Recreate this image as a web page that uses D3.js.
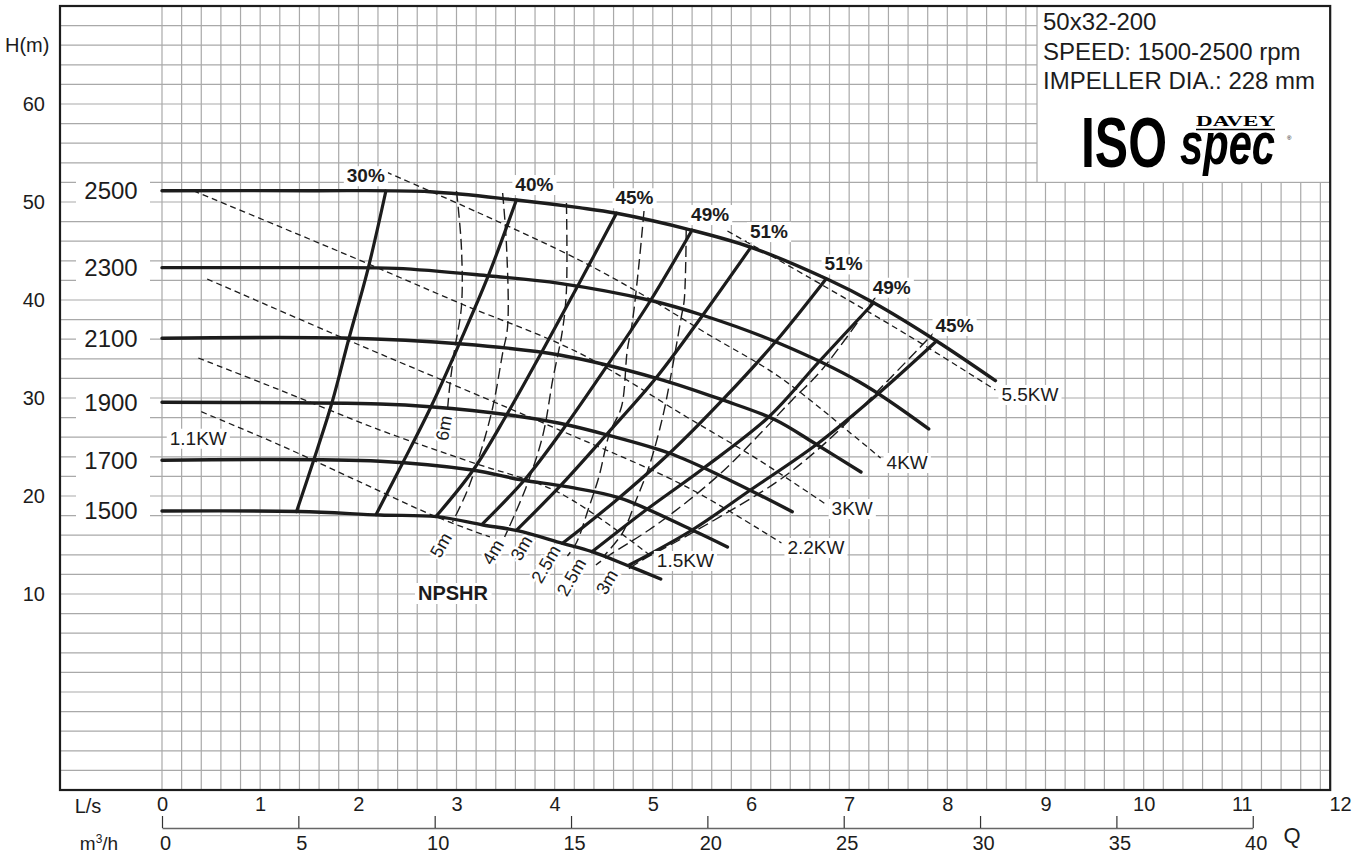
<!DOCTYPE html>
<html><head><meta charset="utf-8">
<script src="https://cdn.jsdelivr.net/npm/d3@7"></script>
<style>
body{margin:0;background:#fff;}
svg{display:block;font-family:"Liberation Sans",Arial,Helvetica,sans-serif;}
</style></head><body>
<svg id="c" width="1364" height="855"></svg>
<script>
// ---------------- DATA (Q in L/s, H in m) ----------------
const speedLabels = ["2500","2300","2100","1900","1700","1500"];
const head2500 = [[0,51.15],[1.5,51.15],[2.73,51.05],[3.61,50.2],[4.25,49.42],[4.63,48.85],[5.39,47.14],[6.0,45.38],[6.78,42.11],[7.25,39.72],[7.89,35.82],[8.49,31.77]];
const head2300 = [[0,43.3],[1.5,43.3],[2.39,43.23],[3.34,42.45],[4.05,41.7],[4.96,40.0],[5.5,38.47],[6.25,35.74],[7.1,31.66],[7.81,26.84]];
const head2100 = [[0,36.1],[1.84,36.12],[3.06,35.51],[4.05,34.39],[5.04,32.01],[5.71,29.8],[6.25,27.76],[6.66,25.3],[7.12,22.45]];
const head1900 = [[0,29.56],[2.22,29.39],[2.73,29.11],[3.54,28.27],[4.05,27.42],[4.54,26.22],[5.17,24.36],[5.71,21.97],[6.42,18.4]];
const head1700 = [[0,23.65],[2.22,23.55],[3.16,22.65],[3.67,21.63],[4.12,20.95],[4.66,19.8],[5.4,16.53],[5.76,14.8]];
const head1500 = [[0,18.47],[1.4,18.42],[2.22,18.06],[2.8,17.89],[3.27,17.04],[3.62,16.46],[4.08,15.17],[4.38,14.32],[4.73,12.96],[5.08,11.53]];
const speedCurves = [head2500, head2300, head2100, head1900, head1700, head1500];

const effLabels = ["30%","40%","45%","49%","51%","51%","49%","45%"];
const eff30  = [[1.37,18.4],[1.54,23.5],[1.73,29.46],[1.9,35.92],[2.1,43.23],[2.28,51.1]];
const eff40  = [[2.18,18.1],[2.45,23.34],[2.74,29.11],[3.03,35.58],[3.32,42.38],[3.61,50.2]];
const eff45a = [[2.79,17.9],[3.17,22.65],[3.51,28.27],[3.88,34.9],[4.25,41.7],[4.63,48.85]];
const eff49a = [[3.26,17.1],[3.71,21.84],[4.08,26.73],[4.54,33.37],[4.98,40.0],[5.4,47.14]];
const eff51a = [[3.61,16.5],[4.05,20.95],[4.54,26.4],[5.03,32.01],[5.51,38.47],[6.0,45.4]];
const eff51b = [[4.08,15.17],[4.61,19.42],[5.17,24.36],[5.71,29.8],[6.25,35.74],[6.76,42.1]];
const eff49b = [[4.38,14.3],[4.93,18.57],[5.52,22.86],[6.18,28.06],[6.69,33.67],[7.25,39.72]];
const eff45b = [[4.76,12.96],[5.4,16.53],[5.98,20.51],[6.66,25.2],[7.28,30.31],[7.89,35.82]];
const effCurves = [eff30, eff40, eff45a, eff49a, eff51a, eff51b, eff49b, eff45b];

const powerLabels = ["1.1KW","1.5KW","2.2KW","3KW","4KW","5.5KW"];
const pw11 = [[0.40,28.6],[1.2,25.2],[2.01,21.46],[2.79,17.89],[3.34,15.82]];
const pw15 = [[0.37,34.08],[1.2,30.82],[2.22,26.73],[3.13,23.52],[4.05,20.31],[4.98,13.88]];
const pw22 = [[0.46,42.14],[2.01,35.41],[4.05,26.73],[5.34,20.95],[6.31,15.2]];
const pw30 = [[0.32,51.15],[1.2,47.48],[2.01,44.08],[3.03,39.69],[4.25,34.59],[5.34,28.09],[6.08,23.67],[6.76,19.18]];
const pw40 = [[2.19,53.47],[3.23,48.88],[4.25,44.08],[4.93,40.34],[5.54,36.63],[6.29,32.14],[7.1,25.71],[7.32,23.88]];
const pw55 = [[5.76,47.04],[6.76,41.33],[7.61,36.33],[8.49,30.82]];
const powerCurves = [pw11, pw15, pw22, pw30, pw40, pw55];

const npshLabels = ["6m","5m","4m","3m","2.5m","2.5m","3m"];
const npshLabelQ = [2.87,2.84,3.37,3.66,3.91,4.17,4.53];
const npshLabelH = [26.94,15.0,14.29,14.69,13.06,11.73,11.22];
const npA = [[3.0,51.12],[3.05,45.41],[3.05,39.29],[2.98,34.9],[2.93,31.12],[2.91,28.98]];
const npB = [[3.47,50.92],[3.51,45.41],[3.52,37.24],[3.47,34.59],[3.37,29.08],[3.23,23.98],[3.1,20.31],[2.96,17.35]];
const npC = [[4.12,49.9],[4.12,41.02],[4.08,36.94],[3.98,31.84],[3.88,26.22],[3.71,20.92],[3.49,15.82]];
const npD = [[4.91,49.08],[4.86,43.78],[4.79,37.65],[4.74,34.9],[4.68,29.08],[4.56,26.43],[4.45,21.94],[4.35,18.88],[4.22,15.2],[4.13,13.88]];
const npE = [[5.34,47.14],[5.32,40.0],[5.29,38.27],[5.2,33.16],[5.1,28.06],[4.96,22.96],[4.83,19.59],[4.69,16.22],[4.51,13.98]];
const npF = [[7.27,40.31],[6.72,32.86],[6.42,29.8],[6.08,26.22],[5.75,22.86],[5.37,19.59],[4.96,16.53],[4.56,13.98],[4.42,12.96]];
const npG = [[7.91,37.14],[7.4,31.84],[6.79,25.71],[6.29,21.63],[5.75,18.27],[5.27,15.51],[4.86,13.27],[4.74,12.45]];
const npshCurves = [npA, npB, npC, npD, npE, npF, npG];

const yTicks = [10,20,30,40,50,60];
const lsTicks = [0,1,2,3,4,5,6,7,8,9,10,11,12];
const m3hTicks = [0,5,10,15,20,25,30,35,40];
const infoLines = ["50x32-200","SPEED: 1500-2500 rpm","IMPELLER DIA.: 228 mm"];

// ---------------- SCALES ----------------
const x = d3.scaleLinear().domain([0,12]).range([162,1340]);
const y = d3.scaleLinear().domain([-10,70]).range([790,6]);
const xm = d3.scaleLinear().domain([0,40]).range([x(0), x(40/3.6)]);
const F = {l:60, t:y(70), r:x(11.9), b:y(-10)};

const svg = d3.select("#c");
const ink = "#1c1c1c";
const gridC = "#a9a9a9";
const narrow = "Liberation Sans Narrow, Arial Narrow, Liberation Sans, sans-serif";

// ---------------- GRID ----------------
const grid = svg.append("g").attr("stroke", gridC).attr("stroke-width", 1.2);
grid.selectAll("line.v").data(d3.range(60).map(i => i*0.2)).join("line")
  .attr("x1", d => x(d)).attr("x2", d => x(d)).attr("y1", F.t).attr("y2", F.b);
grid.selectAll("line.h").data(d3.range(1,40).map(i => -10 + 2*i)).join("line")
  .attr("x1", F.l).attr("x2", F.r).attr("y1", d => y(d)).attr("y2", d => y(d));

// info box top right
svg.append("rect").attr("x", 1037).attr("y", F.t).attr("width", F.r - 1037).attr("height", y(52) - F.t)
  .attr("fill", "#fff").attr("stroke", gridC).attr("stroke-width", 1.2);

// frame
svg.append("rect").attr("x", F.l).attr("y", F.t).attr("width", F.r - F.l).attr("height", F.b - F.t)
  .attr("fill", "none").attr("stroke", ink).attr("stroke-width", 2.2);

// white boxes behind speed labels
const boxes = svg.append("g");
boxes.selectAll("rect").data(speedCurves).join("rect")
  .attr("x", 76).attr("width", 74).attr("y", d => y(d[0][1]) - 17).attr("height", 34).attr("fill", "#fff");

// ---------------- CURVES ----------------
const line = d3.line().x(d => x(d[0])).y(d => y(d[1])).curve(d3.curveCatmullRom.alpha(0.5));
const curves = svg.append("g").attr("fill", "none");
curves.selectAll("path.pw").data(powerCurves).join("path").attr("class","pw")
  .attr("d", line).attr("stroke", ink).attr("stroke-width", 1.3).attr("stroke-dasharray", "6,4");
curves.selectAll("path.np").data(npshCurves).join("path").attr("class","np")
  .attr("d", line).attr("stroke", ink).attr("stroke-width", 1.4).attr("stroke-dasharray", "11,5");
curves.selectAll("path.sp").data(speedCurves).join("path").attr("class","sp")
  .attr("d", line).attr("stroke", ink).attr("stroke-width", 3.4).attr("stroke-linecap", "round");
curves.selectAll("path.ef").data(effCurves).join("path").attr("class","ef")
  .attr("d", line).attr("stroke", ink).attr("stroke-width", 3.2).attr("stroke-linecap", "round");

// ---------------- LABELS ----------------
const labels = svg.append("g").attr("fill", ink);
function boxedText(txt, px, py, opt) {
  const g = labels.append("g");
  const t = g.append("text").attr("x", px).attr("y", py).text(txt)
    .attr("font-size", opt.size).attr("text-anchor", opt.anchor || "start")
    .attr("font-weight", opt.weight || "normal");
  const b = t.node().getBBox();
  g.insert("rect", "text").attr("x", b.x - 3).attr("y", b.y + 1).attr("width", b.width + 6)
    .attr("height", b.height - 1).attr("fill", "#fff");
  return t;
}
speedLabels.forEach((s, i) => {
  labels.append("text").attr("x", 111).attr("y", y(speedCurves[i][0][1]) + 8.5)
    .attr("text-anchor", "middle").attr("font-size", 24).text(s);
});
effLabels.forEach((s, i) => {
  const top = effCurves[i][effCurves[i].length - 1];
  const dx = i === 0 ? -20 : 18;
  boxedText(s, x(top[0]) + dx, y(top[1]) - 9, {size: 19, anchor: "middle", weight: "bold"});
});
powerLabels.forEach((s, i) => {
  const c = powerCurves[i];
  if (i === 0) {
    boxedText(s, x(c[0][0]) - 3, y(c[0][1]) + 33, {size: 19, anchor: "middle"});
  } else {
    const e = c[c.length - 1];
    boxedText(s, x(e[0]) + 6, y(e[1]) + 11, {size: 19});
  }
});
npshLabels.forEach((s, i) => {
  labels.append("text").attr("font-size", 18).attr("text-anchor", "middle")
    .attr("stroke", "#fff").attr("stroke-width", 5).attr("paint-order", "stroke")
    .attr("transform", `translate(${x(npshLabelQ[i])},${y(npshLabelH[i])}) rotate(${i === 0 ? -80 : -60})`)
    .attr("dy", "0.35em").text(s);
});
boxedText("NPSHR", 453, 600, {size: 20, anchor: "middle", weight: "bold"});

// ---------------- AXES ----------------
const yAx = svg.append("g").attr("transform", "translate(46,0)")
  .call(d3.axisLeft(y).tickValues(yTicks).tickSize(0).tickPadding(1));
yAx.select(".domain").remove();
yAx.selectAll("text").attr("font-size", 20).attr("font-family", "Liberation Sans, Arial, sans-serif").attr("fill", ink);
svg.append("text").attr("x", 5).attr("y", y(66) + 7).attr("font-size", 20).attr("fill", ink).text("H(m)");

const lsAx = svg.append("g").attr("transform", "translate(0,797)")
  .call(d3.axisBottom(x).tickValues(lsTicks).tickSize(0).tickPadding(0));
lsAx.select(".domain").remove();
lsAx.selectAll("text").attr("font-size", 20).attr("font-family", narrow).attr("fill", ink);
svg.append("text").attr("x", 88).attr("y", 813).attr("text-anchor", "middle").attr("font-size", 20)
  .attr("font-family", narrow).attr("fill", ink).text("L/s");

const mAx = svg.append("g").attr("transform", "translate(0,828)")
  .call(d3.axisBottom(xm).tickValues(m3hTicks).tickSize(-12).tickSizeOuter(0).tickPadding(8));
mAx.select(".domain").attr("stroke", "#666").attr("stroke-width", 1.4);
mAx.selectAll(".tick line").attr("stroke", "#333").attr("stroke-width", 1.2);
mAx.selectAll("text").attr("font-size", 20).attr("dx", 3).attr("font-family", narrow).attr("fill", ink);
const mt = svg.append("text").attr("x", 99).attr("y", 850).attr("text-anchor", "middle").attr("font-size", 19)
  .attr("font-family", narrow).attr("fill", ink);
mt.append("tspan").text("m");
mt.append("tspan").attr("dy", -7).attr("font-size", 12).text("3");
mt.append("tspan").attr("dy", 7).text("/h");
svg.append("text").attr("x", 1292).attr("y", 843).attr("text-anchor", "middle").attr("font-size", 22)
  .attr("font-family", narrow).attr("fill", ink).text("Q");

// ---------------- INFO BOX ----------------
infoLines.forEach((s, i) => {
  svg.append("text").attr("x", 1043).attr("y", 30 + i * 29.5).attr("font-size", 24).attr("fill", ink).text(s);
});
svg.append("text").attr("transform", "translate(1081,167) scale(1,1.15)")
  .attr("font-size", 61).attr("font-weight", "bold").attr("font-family", narrow)
  .attr("textLength", 86).attr("lengthAdjust", "spacingAndGlyphs").attr("fill", "#000").text("ISO");
svg.append("text").attr("transform", "translate(1180,164) scale(1,1.15)")
  .attr("font-size", 51).attr("font-weight", "bold").attr("font-style", "italic").attr("font-family", narrow)
  .attr("textLength", 95).attr("lengthAdjust", "spacingAndGlyphs").attr("fill", "#000").text("spec");
svg.append("text").attr("x", 1196).attr("y", 126).attr("font-size", 14).attr("font-weight", "bold")
  .attr("font-family", "Liberation Serif, serif")
  .attr("textLength", 79).attr("lengthAdjust", "spacingAndGlyphs").attr("fill", "#000").text("DAVEY");
svg.append("line").attr("x1", 1196).attr("x2", 1275).attr("y1", 129.5).attr("y2", 129.5).attr("stroke", "#000").attr("stroke-width", 1.4);
svg.append("text").attr("x", 1287).attr("y", 140).attr("font-size", 6).attr("fill", "#000").text("®");
</script>
</body></html>
